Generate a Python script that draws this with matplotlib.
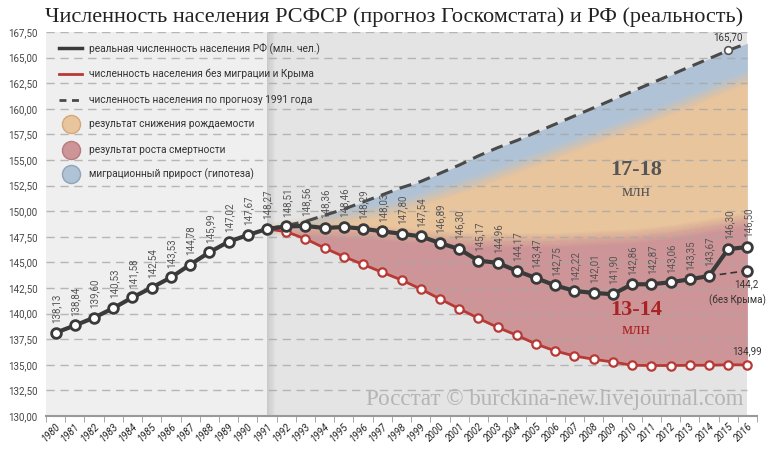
import matplotlib
matplotlib.use("Agg")
import matplotlib.pyplot as plt
import numpy as np

years = list(range(1980, 2017))
real = [138.13, 138.84, 139.60, 140.53, 141.58, 142.54, 143.53, 144.78, 145.99, 147.02,
        147.67, 148.27, 148.51, 148.56, 148.36, 148.46, 148.29, 148.03, 147.80, 147.54,
        146.89, 146.30, 145.17, 144.96, 144.17, 143.47, 142.75, 142.22, 142.01, 141.90,
        142.86, 142.87, 143.06, 143.35, 143.67, 146.30, 146.50]

proj_years = list(range(1991, 2017))
forecast = [148.27, 148.6, 149.0, 149.6, 150.2, 150.9, 151.6, 152.3, 152.9, 153.7,
            154.5, 155.4, 156.2, 156.9, 157.7, 158.5, 159.3, 160.1, 160.9, 161.7,
            162.5, 163.3, 164.1, 164.9, 165.70, 166.4]
natural = [148.27, 148.0, 147.3, 146.4, 145.56, 144.8, 144.03, 143.28, 142.4, 141.43,
           140.48, 139.54, 138.66, 137.88, 137.03, 136.35, 135.86, 135.54, 135.27, 134.95,
           134.93, 134.93, 134.95, 134.96, 135.0, 134.99]
birth_top = [148.27, 148.5, 148.8, 149.2, 149.5, 149.8, 150.1, 150.6, 151.2, 151.8,
             152.4, 153.0, 153.7, 154.4, 155.1, 155.8, 156.5, 157.2, 157.9, 158.6,
             159.3, 160.1, 160.8, 161.6, 162.4, 163.1]
death_top = [148.27, 148.3, 148.3, 148.2, 148.1, 148.0, 147.9, 147.7, 147.6, 147.4,
             147.3, 147.2, 147.2, 147.2, 147.2, 147.2, 147.3, 147.4, 147.5, 147.6,
             147.8, 148.0, 148.3, 148.6, 148.9, 149.3]
nocrimea_years = [2014, 2016]
nocrimea = [143.67, 144.2]

yticks = [130.0 + 2.5 * k for k in range(16)]

def fmt(v, d=2):
    return f"{v:.{d}f}".replace(".", ",")

fig = plt.figure(figsize=(7.72, 4.65), dpi=100)
ax = fig.add_axes([46/772, 49/465, (757-46)/772, (416-32)/465])
ax.set_facecolor("white")

xi = {y: i for i, y in enumerate(years)}
X = np.arange(len(years))
PX = np.array([xi[y] for y in proj_years])
i91 = xi[1991]
iend = xi[2016]

# backgrounds
ax.axvspan(-0.5, i91, color="#efefef", zorder=0, lw=0)
ax.axvspan(i91, iend, color="#e4e4e4", zorder=0, lw=0)
for k, a in enumerate(np.linspace(0.35, 0.0, 8)):
    ax.axvspan(i91 + k*0.06, i91 + (k+1)*0.06, color="#9a9a9a", alpha=a, zorder=0.5, lw=0)

# bands
blue = "#b0c2d6"
orange = "#e9c59d"
pink = "#cd9597"
bt = np.array(birth_top)
dt = np.array(death_top)
ax.fill_between(PX, bt, forecast, color=blue, lw=0, zorder=1)
ax.fill_between(PX, dt, bt, color=orange, lw=0, zorder=1)
ax.fill_between(PX, natural, dt, color=pink, lw=0, zorder=1)
# soft transitions
for k in np.linspace(0.1, 0.7, 6):
    ax.fill_between(PX, bt - k, bt, color=blue, alpha=0.09, lw=0, zorder=1.1)
    ax.fill_between(PX, bt, bt + k, color=orange, alpha=0.09, lw=0, zorder=1.1)
    ax.fill_between(PX, dt - k, dt, color=orange, alpha=0.09, lw=0, zorder=1.1)
    ax.fill_between(PX, dt, np.minimum(dt + k, bt), color=pink, alpha=0.09, lw=0, zorder=1.1)

# grid
for yv in yticks[1:]:
    ax.plot([-0.5, iend], [yv, yv], color="#a8a8a8", lw=1.0, ls=(0, (6, 4)), alpha=0.8, zorder=2)

# forecast dashed
ax.plot(PX, forecast, color="#4a4a4a", lw=2.2, ls=(0, (4, 2.5)), zorder=3)
ax.plot([xi[2015]], [forecast[proj_years.index(2015)]], marker="o", ms=5.5, mfc="white",
        mec="#555555", mew=1.2, zorder=6)

# red natural line
ax.plot(PX, natural, color="#b83a36", lw=2.0, zorder=4, marker="o", ms=6, mfc="white",
        mec="#b83a36", mew=1.6)

# without Crimea
ncx = [xi[y] for y in nocrimea_years]
ax.plot(ncx, nocrimea, color="#333333", lw=1.2, ls=(0, (4, 2.5)), zorder=4)
ax.plot([ncx[1]], [nocrimea[1]], marker="o", ms=7, mfc="white", mec="#3a3a3a", mew=2, zorder=6)

# real line
ax.plot(X, real, color="#3a3a3a", lw=3.0, zorder=5, marker="o", ms=7, mfc="white",
        mec="#3a3a3a", mew=2)

lab_kw = dict(fontsize=7, color="#555555", family="Roboto", rotation=90,
              ha="center", va="bottom", zorder=7)
for i, v in enumerate(real):
    ax.annotate(fmt(v), (i, v), xytext=(0.5, 7), textcoords="offset points", **lab_kw)

small = dict(fontsize=7, color="#333333", family="Roboto", zorder=7, textcoords="offset points")
ax.annotate(fmt(forecast[-2]), (xi[2015], forecast[-2]), xytext=(0, 6),
            ha="center", va="bottom", **small)
ax.annotate(fmt(natural[-1]), (iend, natural[-1]), xytext=(0, 6),
            ha="center", va="bottom", **small)
ax.annotate(fmt(nocrimea[1], 1), (iend, nocrimea[1]), xytext=(-1, -6),
            ha="center", va="top", **small)
ax.annotate("(без Крыма)", (iend, nocrimea[1]), xytext=(-7, -17),
            ha="center", va="top", **small)

# big annotations
ax.text(30.2, 154.0, "17-18", fontsize=16, family="Liberation Serif", fontweight="bold",
        color="#555555", ha="center", va="center", zorder=7)
ax.text(30.2, 151.9, "млн", fontsize=12.5, family="Liberation Serif",
        color="#555555", ha="center", va="center", zorder=7)
ax.text(30.2, 140.4, "13-14", fontsize=16, family="Liberation Serif", fontweight="bold",
        color="#a82424", ha="center", va="center", zorder=7)
ax.text(30.2, 138.4, "млн", fontsize=12.5, family="Liberation Serif",
        color="#a82424", ha="center", va="center", zorder=7)

# watermark
ax.text(iend - 0.2, 131.6, "Росстат © burckina-new.livejournal.com", fontsize=16.5,
        family="Liberation Serif", color="#b4b4b4", ha="right", va="center", zorder=2)

# legend (manual)
leg_x0, leg_x1, leg_tx = 0.2, 1.35, 1.75
leg_rows = [165.9, 163.4, 160.9, 158.5, 156.0, 153.6]
leg_texts = ["реальная численность населения РФ (млн. чел.)",
             "численность населения без миграции и Крыма",
             "численность населения по прогнозу 1991 года",
             "результат снижения рождаемости",
             "результат роста смертности",
             "миграционный прирост (гипотеза)"]
ax.plot([leg_x0, leg_x1], [leg_rows[0]]*2, color="#3a3a3a", lw=2.5, zorder=6)
ax.plot([leg_x0, leg_x1], [leg_rows[1]]*2, color="#b83a36", lw=2.0, zorder=6)
ax.plot([leg_x0, leg_x1], [leg_rows[2]]*2, color="#4a4a4a", lw=2.0, ls=(0, (2.5, 2)), zorder=6)
for yv, fc, ec in zip(leg_rows[3:], [orange, pink, blue], ["#d4a878", "#b87a7c", "#8fa3ba"]):
    ax.plot([(leg_x0 + leg_x1) / 2], [yv], marker="o", ms=13, mfc=fc, mec=ec, mew=1, zorder=6)
for yv, t in zip(leg_rows, leg_texts):
    ax.text(leg_tx, yv, t, fontsize=7.3, family="Roboto", color="#333333",
            ha="left", va="center", zorder=6)

ax.set_xlim(-0.5, len(years) - 0.5)
ax.set_ylim(130, 167.5)
ax.set_yticks(yticks)
ax.set_yticklabels([fmt(v) for v in yticks], fontsize=7, family="Roboto", color="#444444")
ax.tick_params(axis="y", length=0, pad=6)
ax.set_xticks(X)
ax.set_xticklabels([str(y) for y in years], rotation=45, fontsize=7, family="Roboto",
                   style="italic", color="#222222", ha="right", rotation_mode="anchor")
ax.tick_params(axis="x", length=0, pad=4)
ax.set_xticks(np.arange(-0.5, len(years)), minor=True)
ax.tick_params(axis="x", which="minor", length=4, color="#999999")

for s in ["top", "right", "left"]:
    ax.spines[s].set_visible(False)
ax.spines["bottom"].set_color("#999999")
ax.spines["bottom"].set_linewidth(1.5)

fig.text(394/772, 1 - 17/465, "Численность населения РСФСР (прогноз Госкомстата) и РФ (реальность)",
         fontsize=16, family="Liberation Serif", color="#222222", ha="center", va="center")

fig.savefig("out.png", dpi=100)
